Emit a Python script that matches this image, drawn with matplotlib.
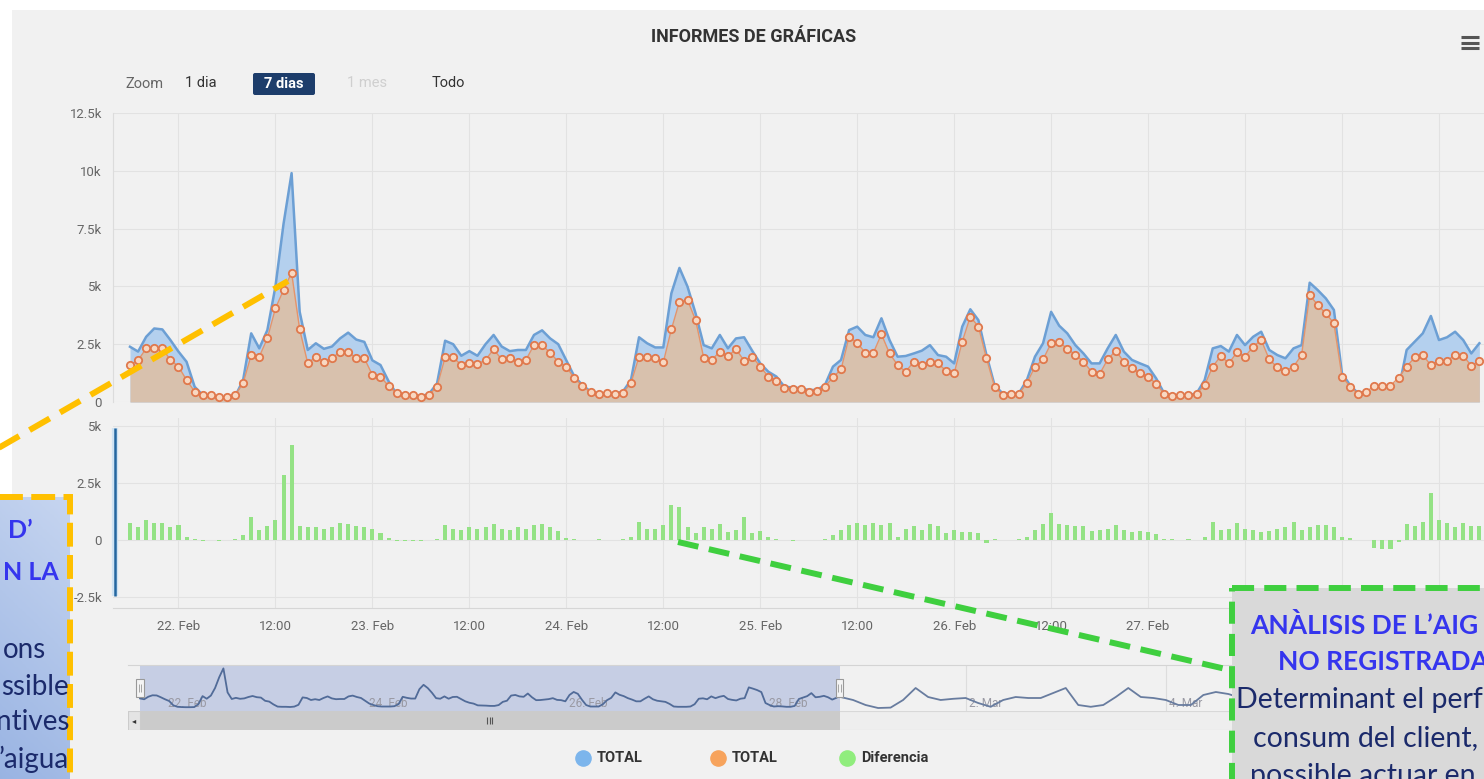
import numpy as np
import matplotlib
matplotlib.use('Agg')
import matplotlib.pyplot as plt
from matplotlib.patches import Rectangle, FancyBboxPatch
from matplotlib.colors import LinearSegmentedColormap

W, H = 1484, 779

# hourly values (k), first point = 21 Feb 18:00
total_a = [2.39, 2.18, 2.82, 3.18, 3.14, 2.68, 2.18, 1.74, 0.66, 0.30, 0.23, 0.20,
           0.20, 0.23, 0.95, 2.97, 2.32, 3.11, 5.00, 7.70, 9.90, 3.90, 2.25, 2.54,
           2.30, 2.40, 2.75, 3.00, 2.70, 2.60, 1.80, 1.60, 0.90, 0.35, 0.30, 0.30,
           0.25, 0.35, 0.80, 2.65, 2.50, 2.00, 2.20, 2.00, 2.50, 2.90, 2.40, 2.20,
           2.25, 2.25, 2.90, 3.10, 2.75, 2.50, 1.80, 1.10, 0.73, 0.45, 0.37, 0.37,
           0.37, 0.45, 0.95, 2.80, 2.54, 2.36, 2.36, 4.70, 5.80, 4.99, 3.83, 2.46,
           2.32, 2.90, 2.32, 2.75, 2.80, 2.22, 1.67, 1.31, 1.10, 0.66, 0.63, 0.59,
           0.52, 0.52, 0.73, 1.53, 1.82, 3.11, 3.26, 2.90, 2.80, 3.62, 2.68, 1.96,
           1.99, 2.10, 2.22, 2.46, 2.03, 1.96, 1.67, 3.26, 4.01, 3.54, 2.03, 0.73,
           0.37, 0.37, 0.37, 0.95, 1.96, 2.54, 3.90, 3.30, 2.97, 2.46, 2.10, 1.67,
           1.67, 2.32, 2.90, 2.18, 1.82, 1.67, 1.53, 1.02, 0.37, 0.30, 0.30, 0.30,
           0.37, 0.95, 2.32, 2.42, 2.18, 2.90, 2.46, 2.82, 3.04, 2.25, 2.03, 1.89,
           2.32, 2.46, 5.16, 4.84, 4.48, 3.98, 1.24, 0.73, 0.37, 0.45, 0.40, 0.30,
           0.30, 0.52, 2.25, 2.61, 2.97, 3.72, 2.68, 2.80, 3.04, 2.68, 2.10, 2.54]

total_b = [1.60, 1.80, 2.32, 2.32, 2.32, 1.82, 1.53, 0.95, 0.45, 0.30, 0.30, 0.23,
           0.23, 0.30, 0.81, 2.03, 1.96, 2.75, 4.05, 4.84, 5.59, 3.14, 1.67, 1.96,
           1.74, 1.89, 2.18, 2.18, 1.89, 1.89, 1.17, 1.10, 0.69, 0.37, 0.30, 0.30,
           0.23, 0.30, 0.66, 1.93, 1.93, 1.60, 1.70, 1.64, 1.82, 2.28, 1.84, 1.89,
           1.74, 1.82, 2.46, 2.46, 2.13, 1.74, 1.53, 1.02, 0.69, 0.42, 0.35, 0.37,
           0.35, 0.40, 0.81, 1.96, 1.96, 1.92, 1.71, 3.14, 4.34, 4.41, 3.54, 1.92,
           1.82, 2.18, 1.99, 2.28, 1.79, 1.96, 1.53, 1.10, 0.91, 0.59, 0.56, 0.55,
           0.45, 0.48, 0.66, 1.07, 1.41, 2.82, 2.56, 2.13, 2.13, 2.93, 2.10, 1.60,
           1.31, 1.74, 1.60, 1.74, 1.67, 1.35, 1.24, 2.61, 3.69, 3.26, 1.89, 0.66,
           0.30, 0.35, 0.35, 0.81, 1.53, 1.84, 2.54, 2.60, 2.30, 2.05, 1.74, 1.31,
           1.21, 1.84, 2.22, 1.74, 1.46, 1.24, 1.10, 0.78, 0.35, 0.26, 0.30, 0.30,
           0.35, 0.73, 1.53, 1.99, 1.67, 2.15, 1.96, 2.39, 2.68, 1.84, 1.50, 1.35,
           1.53, 2.03, 4.63, 4.19, 3.83, 3.40, 1.10, 0.66, 0.35, 0.43, 0.71, 0.71,
           0.71, 1.05, 1.53, 1.93, 2.03, 1.59, 1.79, 1.79, 2.03, 2.00, 1.57, 1.76]

diferencia = [0.73, 0.55, 0.88, 0.75, 0.73, 0.55, 0.66, 0.15,
              0.03, -0.04, 0.00, -0.03, 0.00, 0.04,
              0.20, 1.00, 0.45, 0.60, 0.90, 2.85, 4.17,
              0.60, 0.55, 0.55, 0.50, 0.55, 0.75, 0.70, 0.60, 0.55, 0.50, 0.30, 0.10,
              -0.05, -0.04, -0.03, -0.05, -0.02, 0.03,
              0.65, 0.50, 0.45, 0.55, 0.50, 0.55, 0.70, 0.50, 0.45, 0.55, 0.50, 0.65,
              0.70, 0.55, 0.40, 0.10, 0.05,
              0.02, -0.02, 0.03, 0.00, 0.00, 0.05, 0.15,
              0.80, 0.50, 0.50, 0.65, 1.55, 1.45, 0.55, 0.30, 0.55, 0.50, 0.70, 0.35,
              0.45, 1.00, 0.30, 0.40, 0.15,
              0.05, 0.02, -0.03, 0.00, 0.02, 0.00, 0.05,
              0.20, 0.45, 0.65, 0.73, 0.65, 0.73, 0.65, 0.73, 0.15, 0.50, 0.60, 0.45,
              0.70, 0.60, 0.30, 0.45, 0.35, 0.35, 0.30, -0.15,
              0.05, 0.02, 0.00, 0.03,
              0.15, 0.45, 0.70, 1.20, 0.70, 0.65, 0.60, 0.60, 0.40, 0.45, 0.50, 0.65,
              0.45, 0.35, 0.40, 0.35, 0.25, 0.03, 0.05, 0.00, 0.03, 0.00, 0.15,
              0.80, 0.45, 0.50, 0.75, 0.50, 0.45, 0.35, 0.40, 0.50, 0.55, 0.80, 0.45,
              0.55, 0.65, 0.65, 0.55, 0.15, 0.07, 0.02, 0.02,
              -0.35, -0.40, -0.40, -0.10,
              0.70, 0.60, 0.80, 2.05, 0.90, 0.75, 0.55, 0.75, 0.60, 0.60]

# navigator: TOTAL after the selected week, every 3 hours (k)
nav_extra = [2.75, 2.0, 0.75, 0.0, 0.1, 2.0, 5.0, 2.75, 2.0, 2.3, 2.5, 1.25,
             0.3, 2.0, 2.75, 2.5, 2.5, 3.75, 5.0, 0.75, 0.3, 0.75, 2.75, 5.0,
             2.75, 2.5, 2.0, 0.75, 0.75, 3.25, 4.0, 3.5, 2.5, 1.0, 0.3, 2.5]

x_tick_labels = ['22. Feb', '12:00', '23. Feb', '12:00', '24. Feb', '12:00', '25. Feb',
                 '12:00', '26. Feb', '12:00', '27. Feb']
nav_labels = ['22. Feb', '24. Feb', '26. Feb', '28. Feb', '2. Mar', '4. Mar']
legend_names = ['TOTAL', 'TOTAL', 'Diferencia']
legend_colors = ['#7cb5ec', '#f7a35c', '#90ed7d']

hours = np.arange(len(total_a))
a = np.array(total_a) * 1000
b = np.array(total_b) * 1000
d = np.array(diferencia) * 1000
nav_t = 168 + 3 * np.arange(len(nav_extra))
x_ticks = 6 + 12 * np.arange(14)
nav_ticks = 6 + 48 * np.arange(len(nav_labels))

plt.rcParams['font.family'] = ['Roboto', 'DejaVu Sans']

fig = plt.figure(figsize=(W / 100, H / 100), dpi=100)
fig.patch.set_facecolor('white')


def add_ax(x0, y0, x1, y1, **kw):
    return fig.add_axes([x0 / W, 1 - y1 / H, (x1 - x0) / W, (y1 - y0) / H], **kw)


bg = add_ax(12, 10, W, H)
bg.set_facecolor('#f1f1f1')
bg.set_xticks([])
bg.set_yticks([])
for s in bg.spines.values():
    s.set_visible(False)

# pixel -> hour mapping of the main chart: x = 130 + 8.08 * t
XMIN, XMAX = (113 - 130) / 8.08, (W - 130) / 8.08
grid_c = '#e2e2e2'
lab_c = '#666666'

# top panel
ax1 = add_ax(113, 113, W, 402)
ax1.set_facecolor('none')
ax1.set_xlim(XMIN, XMAX)
ax1.set_ylim(0, 12500)
ax1.fill_between(hours, a, color='#b4d0ee', lw=0, zorder=2)
ax1.plot(hours, a, color='#6c9fd4', lw=1.8, zorder=3)
ax1.fill_between(hours, b, color='#d8c1ad', lw=0, zorder=4)
ax1.plot(hours, b, color='#e5946a', lw=1.0, zorder=5)
ax1.scatter(hours, b, s=28, facecolor='#f8d8c2', edgecolor='#e0784c', lw=1.3,
            zorder=6, clip_on=False)
ax1.set_yticks(np.arange(0, 12501, 2500))
ax1.set_yticklabels(['0', '2.5k', '5k', '7.5k', '10k', '12.5k'])
ax1.set_xticks(x_ticks)
ax1.tick_params(axis='x', labelbottom=False, length=0)
ax1.tick_params(axis='y', length=0, pad=8, labelsize=9.5, labelcolor=lab_c)
ax1.grid(color=grid_c, lw=0.8)
ax1.set_axisbelow(True)
for k, s in ax1.spines.items():
    s.set_visible(k == 'left')
ax1.spines['left'].set_color('#dcdcdc')

# difference panel
ax2 = add_ax(113, 418, W, 608)
ax2.set_facecolor('none')
ax2.set_xlim(XMIN, XMAX)
ax2.set_ylim(-2980, 5350)
ax2.bar(hours, d, width=0.5, color='#94e285', zorder=3)
ax2.set_yticks([-2500, 0, 2500, 5000])
ax2.set_yticklabels(['-2.5k', '0', '2.5k', '5k'])
ax2.set_xticks(x_ticks)
ax2.set_xticklabels(x_tick_labels + [''] * (len(x_ticks) - len(x_tick_labels)))
ax2.tick_params(length=0, labelsize=9.5, labelcolor=lab_c)
ax2.tick_params(axis='y', pad=8)
ax2.tick_params(axis='x', pad=8.5)
ax2.grid(color=grid_c, lw=0.8)
ax2.set_axisbelow(True)
for k, s in ax2.spines.items():
    s.set_visible(k == 'bottom')
ax2.spines['bottom'].set_color('#d6d6d6')

# navigator: x = 140 + 4.17 * t
NXMIN, NXMAX = (128 - 140) / 4.17, (W - 140) / 4.17
SEL_END = 167.8
ax3 = add_ax(128, 665, W, 711)
ax3.set_facecolor('none')
ax3.set_xlim(NXMIN, NXMAX)
ax3.set_ylim(-750, 10750)
ax3.axvspan(0, SEL_END, color='#c6cee4', lw=0, zorder=1)
for t in nav_ticks:
    ax3.axvline(t, color='#dddddd', lw=0.8, zorder=0)
ax3.plot(hours, a, color='#516b98', lw=1.3, zorder=3)
ax3.plot(nav_t, np.array(nav_extra) * 1000, color='#687c9f', lw=1.3, zorder=3)
for t, lab in zip(nav_ticks, nav_labels):
    ax3.text(t + 0.8, 0.17, lab, transform=ax3.get_xaxis_transform(), ha='left',
             va='center', fontsize=8.5, color='#9a9aa4', zorder=2)
for t in (0, SEL_END):
    ax3.add_patch(Rectangle((t - 0.9, 2800), 1.8, 4400, facecolor='#f4f4f4',
                            edgecolor='#999999', lw=0.8, zorder=6, clip_on=False))
    ax3.vlines([t - 0.3, t + 0.3], 4000, 6000, color='#999999', lw=0.6, zorder=7)
ax3.set_xticks([])
ax3.set_yticks([])
for k, s in ax3.spines.items():
    s.set_visible(k == 'top')
ax3.spines['top'].set_color('#d4d4d4')

# scrollbar
ax4 = add_ax(128, 711, W, 730)
ax4.set_xlim(NXMIN, NXMAX)
ax4.set_ylim(0, 1)
ax4.axis('off')
ax4.add_patch(Rectangle((NXMIN, 0), NXMAX - NXMIN, 1, facecolor='#eeeeee',
                        edgecolor='#d8d8d8', lw=0.8))
ax4.add_patch(Rectangle((0, 0), SEL_END, 1, facecolor='#cbcbcb', lw=0))
ax4.add_patch(Rectangle((NXMIN, 0), -NXMIN, 1, facecolor='#e4e4e4',
                        edgecolor='#cccccc', lw=0.8))
ax4.text(NXMIN / 2, 0.5, '◂', ha='center', va='center', fontsize=6, color='#333333',
         family='DejaVu Sans')
ax4.vlines([SEL_END / 2 - 0.6, SEL_END / 2, SEL_END / 2 + 0.6], 0.3, 0.7,
           color='#555555', lw=0.8)

# overlay in pixel coordinates
ov = fig.add_axes([0, 0, 1, 1], zorder=10)
ov.set_xlim(0, W)
ov.set_ylim(H, 0)
ov.axis('off')
ov.patch.set_alpha(0)

ov.text(754, 37, 'INFORMES DE GRÁFICAS', ha='center', va='center', fontsize=13,
        weight='bold', color='#333333')
ov.hlines([37, 42.5, 48], 1461, 1479, color='#555555', lw=2.2)
ov.text(145, 84, 'Zoom', ha='center', va='center', fontsize=10.5, color='#666666')
ov.text(201, 83, '1 dia', ha='center', va='center', fontsize=10.5, color='#333333')
ov.add_patch(FancyBboxPatch((253, 73), 62, 22, boxstyle='round,pad=0,rounding_size=2',
                            facecolor='#1d3d6b', lw=0))
ov.text(284, 83.5, '7 dias', ha='center', va='center', fontsize=10.5, weight='bold',
        color='white')
ov.text(367, 83, '1 mes', ha='center', va='center', fontsize=10.5, color='#cfcfcf')
ov.text(448, 83, 'Todo', ha='center', va='center', fontsize=10.5, color='#333333')

# bottom panel axis highlight
ov.plot([115, 115], [428, 596], color='#cfe3f3', lw=4.5, solid_capstyle='butt')
ov.plot([115, 115], [428, 596], color='#2466a0', lw=1.8, solid_capstyle='butt')

# legend
for x, name, col in zip([583, 718, 847], legend_names, legend_colors):
    ov.scatter([x], [758], s=120, color=col, zorder=3)
    ov.text(x + 14, 758.5, name, ha='left', va='center', fontsize=10.5, weight='bold',
            color='#333333')

# annotations
orange = '#ffc000'
green = '#3fcf3f'
head_c = '#3535ee'
body_c = '#1b2a6b'

ov.plot([-5, 288], [450, 281], color=orange, lw=4.3, dashes=(3.9, 2.0), zorder=5)

grad = np.linspace(0, 1, 100)[:, None] * np.ones((1, 20))
grad = grad + np.linspace(0.25, 0, 20)[None, :]
cmap = LinearSegmentedColormap.from_list('box', ['#c6d5f0', '#97b2e2'])
ov.imshow(grad, extent=(-10, 70, 790, 497), aspect='auto', cmap=cmap, zorder=4)
ov.add_patch(Rectangle((-20, 497), 90, 300, fill=False, edgecolor=orange, lw=4.3,
                       linestyle=(0, (4.0, 1.4)), zorder=6))
ov.text(33, 531, 'D’', ha='right', va='center', fontsize=18, weight='bold',
        color=head_c, family='Lato', zorder=7)
ov.text(59, 573, 'N LA', ha='right', va='center', fontsize=18, weight='bold',
        color=head_c, family='Lato', zorder=7)
for x, y, txt in [(46, 650, 'ons'), (69, 687, 'ssible'), (69, 722, 'ntives'),
                  (69, 759, '’aigua')]:
    ov.text(x, y, txt, ha='right', va='center', fontsize=20, color=body_c,
            family='Lato', zorder=7)

ov.plot([678, 1230], [542, 670], color=green, lw=4.3, dashes=(3.5, 1.8), zorder=5)
ov.add_patch(Rectangle((1232, 588), 300, 250, facecolor='#d9d9d9', edgecolor=green,
                       lw=4.3, linestyle=(0, (3.7, 1.7)), zorder=6))
ov.text(1250, 625, 'ANÀLISIS DE L’AIG', ha='left', va='center', fontsize=19,
        weight='bold', color=head_c, family='Lato', zorder=7)
ov.text(1278, 662, 'NO REGISTRADA', ha='left', va='center', fontsize=19,
        weight='bold', color=head_c, family='Lato', zorder=7)
for x, y, txt in [(1236, 700, 'Determinant el perf'), (1253, 738, 'consum del client,'),
                  (1250, 776, 'possible actuar en')]:
    ov.text(x, y, txt, ha='left', va='center', fontsize=20.5, color=body_c,
            family='Lato', zorder=7)
ov.set_xlim(0, W)
ov.set_ylim(H, 0)

fig.savefig('out.png', dpi=100, facecolor=fig.get_facecolor())
